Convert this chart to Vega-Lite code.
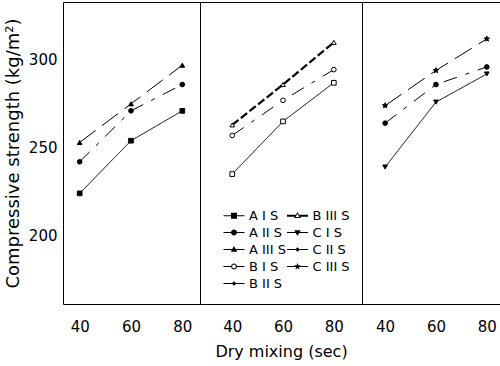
{
  "$schema": "https://vega.github.io/schema/vega-lite/v6.json",
  "padding": {"left": 3, "top": 1, "right": 0, "bottom": 0},
  "background": "white",
  "bounds": "flush",
  "data": {
    "values": [
      {"panel": "A", "series": "A I S", "dry": 40, "strength": 224},
      {"panel": "A", "series": "A I S", "dry": 60, "strength": 254},
      {"panel": "A", "series": "A I S", "dry": 80, "strength": 271},
      {"panel": "A", "series": "A II S", "dry": 40, "strength": 242},
      {"panel": "A", "series": "A II S", "dry": 60, "strength": 271},
      {"panel": "A", "series": "A II S", "dry": 80, "strength": 286},
      {"panel": "A", "series": "A III S", "dry": 40, "strength": 253},
      {"panel": "A", "series": "A III S", "dry": 60, "strength": 275},
      {"panel": "A", "series": "A III S", "dry": 80, "strength": 297},
      {"panel": "B", "series": "B I S", "dry": 40, "strength": 235},
      {"panel": "B", "series": "B I S", "dry": 60, "strength": 265},
      {"panel": "B", "series": "B I S", "dry": 80, "strength": 287},
      {"panel": "B", "series": "B II S", "dry": 40, "strength": 257},
      {"panel": "B", "series": "B II S", "dry": 60, "strength": 277},
      {"panel": "B", "series": "B II S", "dry": 80, "strength": 294.5},
      {"panel": "B", "series": "B III S", "dry": 40, "strength": 263},
      {"panel": "B", "series": "B III S", "dry": 60, "strength": 286},
      {"panel": "B", "series": "B III S", "dry": 80, "strength": 310},
      {"panel": "C", "series": "C I S", "dry": 40, "strength": 239},
      {"panel": "C", "series": "C I S", "dry": 60, "strength": 276},
      {"panel": "C", "series": "C I S", "dry": 80, "strength": 292},
      {"panel": "C", "series": "C II S", "dry": 40, "strength": 264},
      {"panel": "C", "series": "C II S", "dry": 60, "strength": 286},
      {"panel": "C", "series": "C II S", "dry": 80, "strength": 296},
      {"panel": "C", "series": "C III S", "dry": 40, "strength": 274},
      {"panel": "C", "series": "C III S", "dry": 60, "strength": 294},
      {"panel": "C", "series": "C III S", "dry": 80, "strength": 312}
    ]
  },
  "spacing": 0,
  "resolve": {
    "scale": {"shape": "independent", "strokeDash": "independent"},
    "legend": {"shape": "independent", "strokeDash": "independent"}
  },
  "hconcat": [
    {
      "width": 137,
      "height": 302,
      "transform": [{"filter": "datum.panel == 'A'"}],
      "encoding": {
        "x": {"field": "dry", "type": "quantitative", "scale": {"domain": [33.5, 86.9], "nice": false, "zero": false}, "axis": {"values": [40, 60, 80], "title": null}},
        "y": {"field": "strength", "type": "quantitative", "scale": {"domain": [161, 333], "nice": false, "zero": false}, "axis": {"values": [200, 250, 300], "title": "Compressive strength (kg/m²)", "titleFontSize": 18, "titlePadding": 6, "labelPadding": 6}}
      },
      "layer": [
        {
          "mark": {"type": "line", "color": "black", "strokeWidth": 1},
          "encoding": {
            "detail": {"field": "series"},
            "strokeDash": {"field": "series", "type": "nominal", "legend": null,
              "scale": {"domain": ["A I S","A II S","A III S"], "range": [[1,0],[14,9,4,9],[20,8]]}}
          }
        },
        {
          "mark": {"type": "point", "filled": true, "stroke": "black", "strokeWidth": 1, "opacity": 1, "size": 22},
          "encoding": {
            "fill": {"value": "black"},
            "shape": {"field": "series", "type": "nominal", "legend": null,
              "scale": {"domain": ["A I S","A II S","A III S"], "range": ["square","circle","triangle-up"]}}
          }
        }
      ]
    },
    {
      "width": 162,
      "height": 302,
      "transform": [{"filter": "datum.panel == 'B'"}],
      "encoding": {
        "x": {"field": "dry", "type": "quantitative", "scale": {"domain": [27.3, 91.1], "nice": false, "zero": false}, "axis": {"values": [40, 60, 80], "title": "Dry mixing (sec)"}},
        "y": {"field": "strength", "type": "quantitative", "scale": {"domain": [161, 333], "nice": false, "zero": false}, "axis": null}
      },
      "resolve": {"scale": {"shape": "independent"}, "legend": {"shape": "independent"}},
      "layer": [
        {
          "mark": {"type": "line", "color": "black"},
          "encoding": {
            "detail": {"field": "series"},
            "strokeWidth": {"condition": {"test": "datum.series == 'B III S'", "value": 2.2}, "value": 1},
            "strokeDash": {"field": "series", "type": "nominal", "legend": null,
              "scale": {"domain": ["B I S","B II S","B III S"], "range": [[1,0],[14,9,4,9],[8,3]]}}
          }
        },
        {
          "mark": {"type": "point", "filled": true, "stroke": "black", "strokeWidth": 1, "opacity": 1, "size": 22},
          "encoding": {
            "fill": {"value": "white"},
            "shape": {"field": "series", "type": "nominal", "legend": null,
              "scale": {"domain": ["B I S","B II S","B III S"], "range": ["square","circle","triangle-up"]}}
          }
        },
        {
          "mark": {"type": "point", "filled": true, "fill": "black", "strokeWidth": 0, "opacity": 0, "size": 100},
          "encoding": {
            "shape": {"field": "series", "type": "nominal",
              "scale": {"domain": ["A I S","A II S","A III S","B I S","B II S","B III S","C I S","C II S","C III S"],
                        "range": [
                          "M-2.1,-0.1H2.1V0.1H-2.1ZM-0.6,-0.6H0.6V0.6H-0.6Z",
                          "M-2.1,-0.1H2.1V0.1H-2.1ZM-0.6,0A0.6,0.6,0,1,1,0.6,0A0.6,0.6,0,1,1,-0.6,0Z",
                          "M-2.1,-0.1H2.1V0.1H-2.1ZM0,-0.7L0.65,0.45H-0.65Z",
                          "M-2.1,-0.1H-0.55V0.1H-2.1ZM0.55,-0.1H2.1V0.1H0.55ZM-0.6,0A0.6,0.6,0,1,1,0.6,0A0.6,0.6,0,1,1,-0.6,0ZM-0.38,0A0.38,0.38,0,1,0,0.38,0A0.38,0.38,0,1,0,-0.38,0Z",
                          "M-2.1,-0.1H2.1V0.1H-2.1ZM0,-0.45L0.45,0L0,0.45L-0.45,0Z",
                          "M-2.1,-0.2H-0.42V0.2H-2.1ZM0.42,-0.2H2.1V0.2H0.42ZM0,-0.75L0.7,0.45H-0.7ZM0,-0.38L-0.38,0.25H0.38Z",
                          "M-2.1,-0.1H2.1V0.1H-2.1ZM0,0.7L-0.65,-0.45H0.65Z",
                          "M-2.1,-0.1H2.1V0.1H-2.1ZM0,-0.45L0.45,0L0,0.45L-0.45,0Z",
                          "M-2.1,-0.1H2.1V0.1H-2.1ZM0,-0.72L0.176,-0.243L0.685,-0.223L0.286,0.093L0.423,0.583L0,0.3L-0.423,0.583L-0.286,0.093L-0.685,-0.223L-0.176,-0.243Z"
                        ]},
              "legend": {
                "title": null, "orient": "none", "legendX": 27.5, "legendY": 207, "columns": 2, "padding": 0,
                "labelFontSize": 13, "labelFont": "DejaVu Sans", "labelColor": "black", "labelOffset": 8.5,
                "columnPadding": 0.5, "rowPadding": 3, "symbolSize": 100,
                "symbolFillColor": "black", "symbolStrokeWidth": 0, "symbolOpacity": 1
              }}
          }
        }
      ]
    },
    {
      "width": 138,
      "height": 302,
      "transform": [{"filter": "datum.panel == 'C'"}],
      "encoding": {
        "x": {"field": "dry", "type": "quantitative", "scale": {"domain": [30.9, 85.2], "nice": false, "zero": false}, "axis": {"values": [40, 60, 80], "title": null}},
        "y": {"field": "strength", "type": "quantitative", "scale": {"domain": [161, 333], "nice": false, "zero": false}, "axis": null}
      },
      "layer": [
        {
          "mark": {"type": "line", "color": "black", "strokeWidth": 1},
          "encoding": {
            "detail": {"field": "series"},
            "strokeDash": {"field": "series", "type": "nominal", "legend": null,
              "scale": {"domain": ["C I S","C II S","C III S"], "range": [[1,0],[14,9,4,9],[20,8]]}}
          }
        },
        {
          "mark": {"type": "point", "filled": true, "stroke": "black", "strokeWidth": 1, "opacity": 1, "size": 22},
          "encoding": {
            "fill": {"value": "black"},
            "shape": {"field": "series", "type": "nominal", "legend": null,
              "scale": {"domain": ["C I S","C II S","C III S"],
                        "range": ["triangle-down","circle","M0,-1.2L0.294,-0.405L1.141,-0.371L0.476,0.155L0.705,0.971L0,0.5L-0.705,0.971L-0.476,0.155L-1.141,-0.371L-0.294,-0.405Z"]}}
          }
        }
      ]
    }
  ],
  "config": {
    "view": {"stroke": "black", "strokeWidth": 1},
    "axis": {"labelFont": "DejaVu Sans", "titleFont": "DejaVu Sans", "labelColor": "black", "titleColor": "black", "titleFontWeight": "normal", "labelFontSize": 15, "titleFontSize": 16, "domain": false, "grid": false, "ticks": false, "tickSize": 0},
    "axisX": {"labelPadding": 15, "titlePadding": 9}
  }
}
